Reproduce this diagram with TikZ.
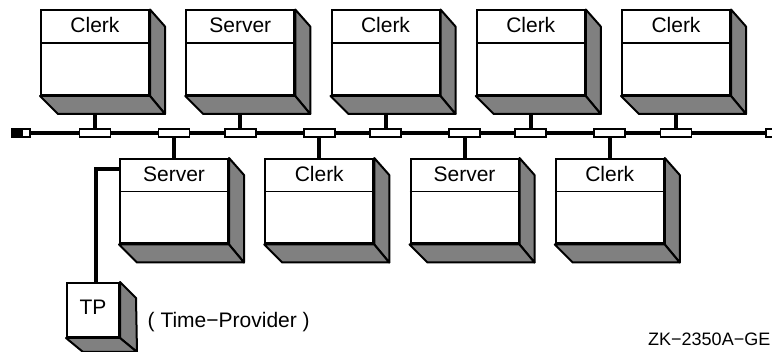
\documentclass[tikz,border=0pt]{standalone}
\usepackage{fontspec}
\setmainfont{Liberation Sans}
\usetikzlibrary{backgrounds,calc}
\definecolor{shadegray}{RGB}{128,128,128}
\tikzset{
  front/.style={draw, line width=2pt, fill=white, rectangle, inner sep=0pt,
    minimum width=108pt, minimum height=84.5pt, anchor=north west},
  tpfront/.style={front, minimum width=52pt, minimum height=54pt},
  face/.style={fill=shadegray, draw=black, line width=2pt, line join=round},
  divider/.style={line width=1.7pt},
  lbl/.style={font=\fontsize{21}{25}\selectfont, inner sep=0pt, anchor=base},
  smalllbl/.style={font=\fontsize{18}{22}\selectfont, inner sep=0pt, anchor=base west},
  tap/.style={draw, line width=1.8pt, fill=white, rectangle, inner sep=0pt,
    minimum width=31pt, minimum height=8pt},
  termwhite/.style={draw, line width=1.8pt, fill=white, rectangle, inner sep=0pt,
    minimum width=8pt, minimum height=8pt},
  termblack/.style={draw, line width=1.8pt, fill=black, rectangle, inner sep=0pt,
    minimum width=10pt, minimum height=8pt},
  cable/.style={line width=4pt},
}
\newcommand\cubebox[4]{%
  \node[front] (#1) at (#2,#3) {};
  \draw[face] (#1.north east) -- ++(15,17) -- ($(#1.south east)+(15,18)$) -- (#1.south east) -- cycle;
  \draw[face] (#1.south west) -- ++(18,18) -- ($(#1.south east)+(15,18)$) -- (#1.south east) -- cycle;
  \draw[divider] ($(#1.north west)+(0,33.5)$) -- ($(#1.north east)+(0,33.5)$);
  \node[lbl] (#1-t) at ($(#1.north)+(0,23.5)$) {#4};
}
\begin{document}
\begin{tikzpicture}[x=1pt,y=-1pt]
\useasboundingbox (0,0) rectangle (772,352);
\coordinate (bus) at (0,133);
% top row
\cubebox{T1}{40}{9.5}{Clerk}
\cubebox{T2}{185.25}{9.5}{Server}
\cubebox{T3}{330.5}{9.5}{Clerk}
\cubebox{T4}{475.75}{9.5}{Clerk}
\cubebox{T5}{621}{9.5}{Clerk}
% bottom row
\cubebox{B1}{119}{158}{Server}
\cubebox{B2}{264.25}{158}{Clerk}
\cubebox{B3}{409.5}{158}{Server}
\cubebox{B4}{554.75}{158}{Clerk}
% time provider
\node[tpfront] (TP) at (66,282) {};
\draw[face] (TP.north east) -- ++(16,16) -- ($(TP.south east)+(17,14)$) -- (TP.south east) -- cycle;
\draw[face] (TP.south west) -- ++(17,14) -- ($(TP.south east)+(17,14)$) -- (TP.south east) -- cycle;
\node[lbl] (TP-t) at ($(TP.north)+(0,33)$) {TP};
% taps
\foreach \n in {T1,T2,T3,T4,T5} {
  \node[tap] (tap\n) at (\n.south |- bus) {};
}
\foreach \n in {B1,B2,B3,B4} {
  \node[tap] (tap\n) at (\n.north |- bus) {};
}
% terminators
\node[termblack] (termLb) at (17,133) {};
\node[termwhite] (termLw) at (26,133) {};
\node[termwhite] (termRw) at (770,133) {};
\node[termblack] (termRb) at (779,133) {};
\begin{pgfonlayer}{background}
  \fill[white] (0,0) rectangle (772,352);
  \draw[cable] (termLw.east) -- (termRw.west);
  \foreach \n in {T1,T2,T3,T4,T5} { \draw[cable] (\n.south) -- (tap\n.center); }
  \foreach \n in {B1,B2,B3,B4} { \draw[cable] (\n.north) -- (tap\n.center); }
  \draw[cable] ($(B1.north west)+(0,11)$) -| ($(TP.north)+(3,0)$);
\end{pgfonlayer}
% texts
\node[lbl, anchor=base west] (tpdesc) at (147.5,327.5) {( Time−Provider )};
\node[smalllbl] (zk) at (648,346) {ZK−2350A−GE};
\end{tikzpicture}
\end{document}
